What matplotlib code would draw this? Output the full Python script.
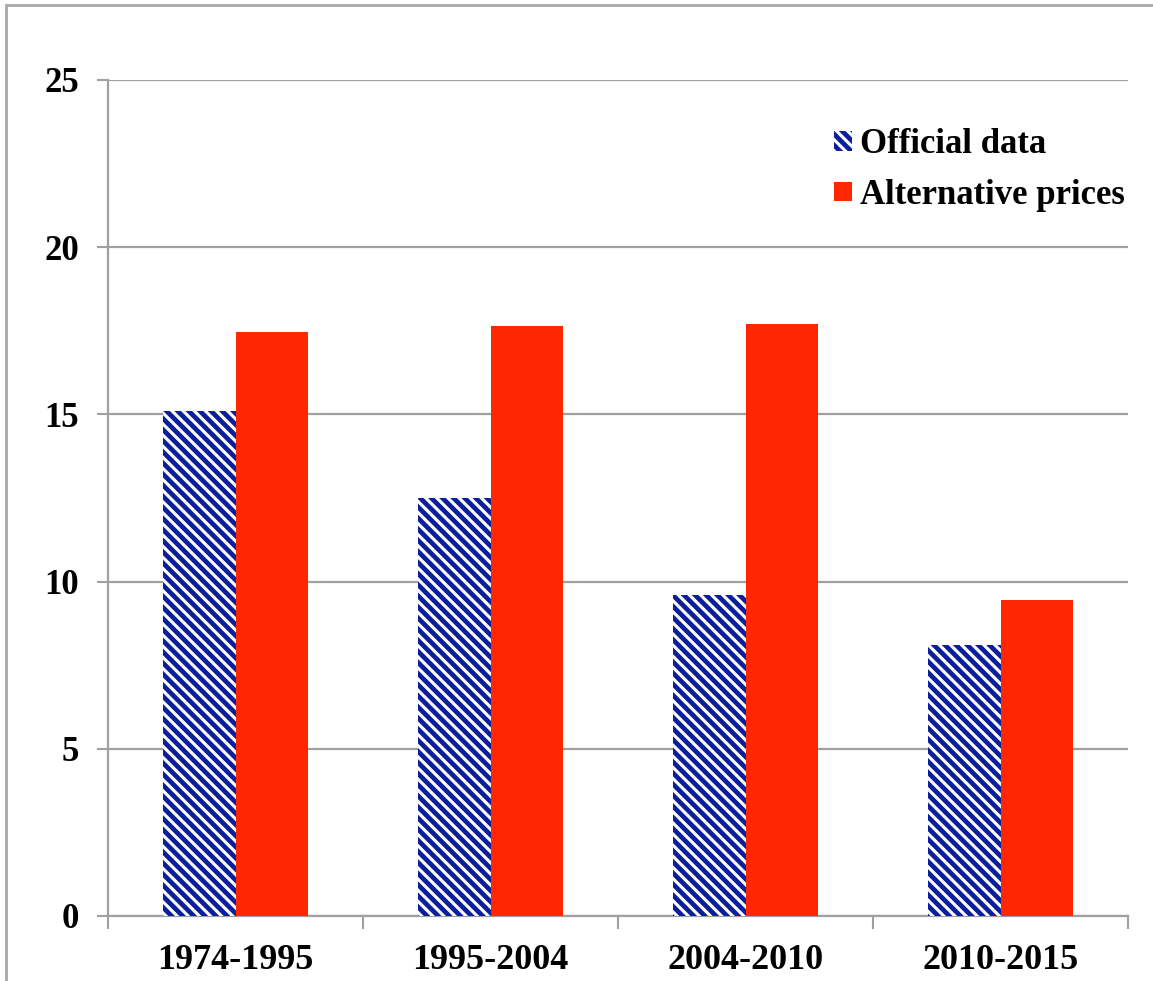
import numpy as np
import matplotlib.pyplot as plt
from matplotlib.patches import Rectangle

periods = ['1974-1995', '1995-2004', '2004-2010', '2010-2015']
official = [15.1, 12.5, 9.6, 8.1]
alternative = [17.45, 17.65, 17.7, 9.45]
yticks = [0, 5, 10, 15, 20, 25]

plt.rcParams['font.family'] = ['Liberation Serif', 'DejaVu Serif']
plt.rcParams['font.weight'] = 'bold'
plt.rcParams['hatch.linewidth'] = 3.4
plt.rcParams['hatch.color'] = '#0B1F9C'

fig = plt.figure(figsize=(11.53, 9.81), dpi=100)
ax = fig.add_axes([108 / 1153, 1 - 916 / 981, 1020 / 1153, 836 / 981])

x = np.arange(len(periods))
w = 0.286
ax.bar(x - w / 2, official, w, color='white', edgecolor='#0B1F9C', linewidth=0,
       hatch='\\\\\\', label='Official data', zorder=3)
ax.bar(x + w / 2, alternative, w, color='#FF2600', linewidth=0,
       label='Alternative prices', zorder=3)

ax.set_xlim(-0.5, len(periods) - 0.5)
ax.set_ylim(0, 25)
ax.set_yticks(yticks)
ax.set_yticklabels([str(v) for v in yticks], fontsize=25, fontweight='bold')
ax.set_xticks(x)
ax.set_xticklabels(periods, fontsize=26, fontweight='bold')
ax.set_xticks(np.arange(len(periods) + 1) - 0.5, minor=True)
ax.tick_params(axis='x', which='major', length=0, pad=20)
ax.tick_params(axis='x', which='minor', length=9, width=1.5, color='#A0A0A0')
ax.tick_params(axis='y', length=8, width=1.5, color='#A0A0A0', pad=13)

ax.grid(axis='y', color='#A0A0A0', linewidth=1.6, zorder=0)
for s in ['top', 'right']:
    ax.spines[s].set_visible(False)
for s in ['left', 'bottom']:
    ax.spines[s].set_color('#A0A0A0')
    ax.spines[s].set_linewidth(1.6)

leg = ax.legend(loc='upper left', bbox_to_anchor=(0.712, 0.942), frameon=False,
                prop={'size': 25, 'weight': 'bold'}, handlelength=0.5,
                handleheight=0.5, handletextpad=0.25, labelspacing=0.5,
                borderpad=0, borderaxespad=0)

fig.patches.append(Rectangle((6 / 1153, -0.1), 1.2, 1 - 5 / 981 + 0.1,
                             transform=fig.transFigure, fill=False,
                             edgecolor='#A8A8A8', linewidth=2))

fig.savefig('out.png', dpi=100)
